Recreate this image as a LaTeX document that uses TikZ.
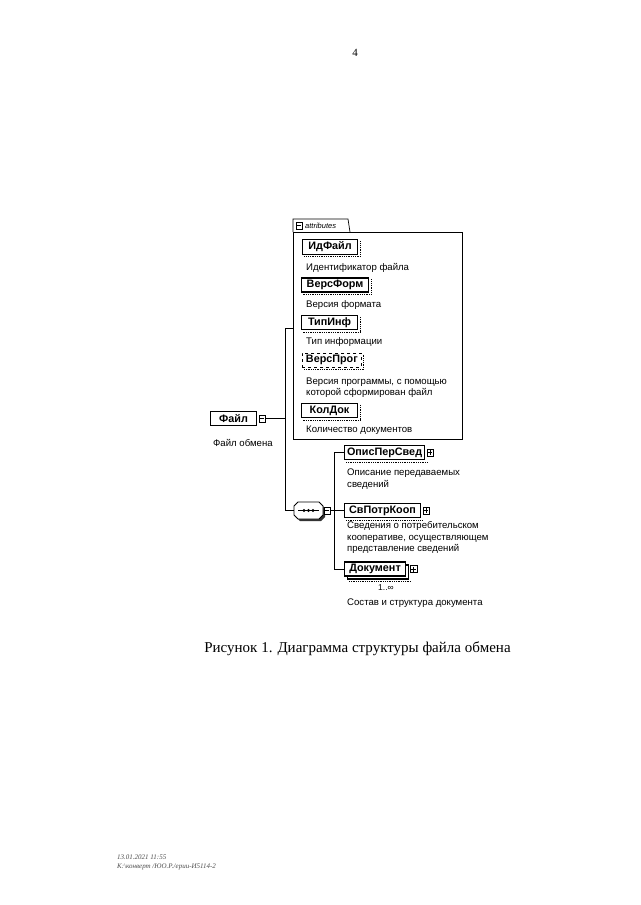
\documentclass[tikz,border=0pt]{standalone}
\usepackage{fontspec}
\setmainfont{Liberation Serif}
\newfontfamily\xsd{Liberation Sans}
\usetikzlibrary{positioning,shadows}

\tikzset{
  wire/.style={line width=0.9pt},
  elembox/.style={draw, line width=1.1pt, fill=white, minimum height=14pt, inner sep=2pt,
    anchor=west, font=\xsd\bfseries\fontsize{10.8}{12}\selectfont},
  optbox/.style={elembox, dashed, line width=0.8pt},
  desc/.style={anchor=west, inner sep=0pt, align=left, font=\xsd\fontsize{9.6}{11.2}\selectfont},
  togglebox/.style={draw, line width=0.5pt, fill=white, minimum width=6.5pt, minimum height=7pt, inner sep=0pt},
  minusbox/.style={togglebox, path picture={
    \draw[line width=0.5pt] ([xshift=1pt]path picture bounding box.west) -- ([xshift=-1pt]path picture bounding box.east);}},
  plusbox/.style={togglebox, path picture={
    \draw[line width=0.5pt] ([xshift=1pt]path picture bounding box.west) -- ([xshift=-1pt]path picture bounding box.east)
      ([yshift=-1pt]path picture bounding box.north) -- ([yshift=1pt]path picture bounding box.south);}},
}

\begin{document}
\begin{tikzpicture}[x=1pt,y=-1pt]
  \useasboundingbox (0,0) rectangle (640,905);

  % Numero di pagina
  \node[font=\fontsize{11}{13}\selectfont] (pagenum) at (355,53) {4};

  % Gruppo degli attributi
  \draw[line width=0.7pt] (293,232) rectangle (462,439);
  \draw[line width=0.7pt] (293,232) -- (293,219) -- (348,219) -- (350,232);
  \node[minusbox] (attrT) at (299,225.5) {};
  \node[anchor=west, inner sep=0pt, font=\xsd\itshape\fontsize{7.5}{9}\selectfont] (attrL) at (305,225.5) {attributes};
  \coordinate (attrIn) at (293,328);

  \node[elembox, minimum width=55pt] (idfajl) at (302,247) {ИдФайл};
  \node[desc] (idfajlD) at (306,268) {Идентификатор файла};
  \node[elembox, minimum width=67pt] (versform) at (301,285) {ВерсФорм};
  \node[desc] (versformD) at (306,305) {Версия формата};
  \node[elembox, minimum width=56pt] (tipinf) at (301,322.5) {ТипИнф};
  \node[desc] (tipinfD) at (306,342.5) {Тип информации};
  \node[optbox, minimum width=59pt] (versprog) at (302,360) {ВерсПрог};
  \node[desc] (versprogD) at (306,387.5) {Версия программы, с помощью\\которой сформирован файл};
  \node[elembox, minimum width=56pt] (koldok) at (301,410.5) {КолДок};
  \node[desc] (koldokD) at (306,430) {Количество документов};

  % Ombre degli attributi
  \foreach \n in {idfajl, versform, tipinf, versprog, koldok}
    \draw[densely dotted, line width=0.8pt] ([shift={(2pt,-2pt)}]\n.north east) -- ([shift={(2pt,-2pt)}]\n.south east)
      -- ([shift={(2pt,-2pt)}]\n.south west);

  % Elemento radice
  \node[elembox, minimum width=46pt] (fajl) at (210,418.5) {Файл};
  \node[minusbox, right=1.5pt of fajl] (fajlT) {};
  \node[desc] (fajlD) at (213,443) {Файл обмена};

  % Compositore sequenza
  \fill[black!80] (300,504) -- (321,504) -- (325,508) -- (325,517) -- (321,521) -- (300,521) -- (296,517) -- (296,508) -- cycle;
  \filldraw[fill=white, line width=0.8pt] (298,502) -- (319,502) -- (323,506) -- (323,515) -- (319,519) -- (298,519) -- (294,515) -- (294,506) -- cycle;
  \draw[line width=0.7pt] (298,510.5) -- (319,510.5);
  \foreach \x in {304,308.5,313}
    \fill (\x,510.5) circle (1.6pt);
  \node[minusbox] (seqT) at (327,510.5) {};
  \coordinate (seqL) at (294,510.5);
  \coordinate (seqR) at (334,510.5);

  % Elementi figli
  \node[elembox, minimum width=80pt] (opis) at (344,452.5) {ОписПерСвед};
  \node[plusbox, right=1.5pt of opis] (opisT) {};
  \node[desc] (opisD) at (347,479) {Описание передаваемых\\сведений};
  \node[elembox, minimum width=76pt] (svpotr) at (344,510.5) {СвПотрКооп};
  \node[plusbox, right=1.5pt of svpotr] (svpotrT) {};
  \node[desc] (svpotrD) at (347,537.5) {Сведения о потребительском\\кооперативе, осуществляющем\\представление сведений};
  \node[elembox, minimum width=61pt, copy shadow={shadow xshift=3pt, shadow yshift=-3pt}] (dokument) at (344,569) {Документ};
  \node[plusbox, right=4pt of dokument] (dokumentT) {};
  \node[inner sep=0pt, font=\xsd\fontsize{8.5}{10}\selectfont] (dokumentM) at (386,588) {1..∞};
  \node[desc] (dokumentD) at (347,603) {Состав и структура документа};

  \foreach \n in {opis, svpotr}
    \draw[densely dotted, line width=0.8pt] ([shift={(2pt,-2.5pt)}]\n.south west) -- ([shift={(2pt,-2.5pt)}]\n.south east);
  \draw[densely dotted, line width=0.8pt] ([shift={(5pt,-5pt)}]dokument.south west) -- ([shift={(5pt,-5pt)}]dokument.south east);

  % Collegamenti
  \coordinate (trunkTop) at (285,328);
  \coordinate (trunkBot) at (285,510.5);
  \draw[wire] (attrIn) -- (trunkTop) -- (trunkBot) -- (seqL);
  \draw[wire] (fajlT.east) -- (fajlT.east -| trunkTop);
  \draw[wire] (seqT.east) -- (svpotr.west);
  \draw[wire] (opis.west) -- (opis.west -| seqR) -- (dokument.west -| seqR) -- (dokument.west);

  % Didascalia
  \node[font=\fontsize{15}{18}\selectfont] (caption) at (357.5,649) {Рисунок 1. Диаграмма структуры файла обмена};

  % Piede di pagina
  \node[anchor=west, inner sep=0pt, text=black!70, font=\itshape\fontsize{7}{8}\selectfont] (stamp) at (117,857) {13.01.2021 11:55};
  \node[anchor=west, inner sep=0pt, text=black!70, font=\itshape\fontsize{7}{8}\selectfont] (path) at (117,867) {K:\textbackslash конверт /ЮО.Р./ерии-И5114-2};
\end{tikzpicture}
\end{document}
